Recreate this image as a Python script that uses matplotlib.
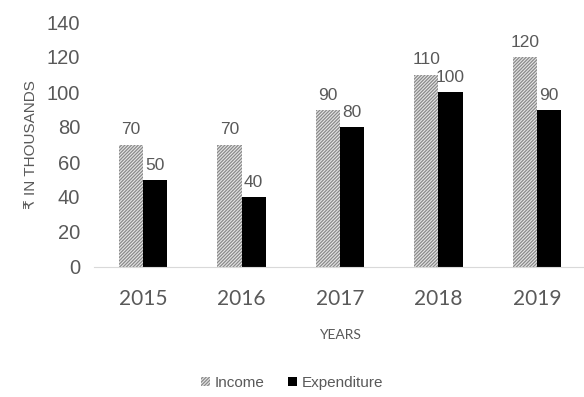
import matplotlib
matplotlib.use("Agg")
import matplotlib.pyplot as plt
import numpy as np

years = ["2015", "2016", "2017", "2018", "2019"]
income = [70, 70, 90, 110, 120]
expenditure = [50, 40, 80, 100, 90]

plt.rcParams['font.family'] = ['Liberation Sans', 'DejaVu Sans']
plt.rcParams['hatch.color'] = '#8a8a8a'
plt.rcParams['hatch.linewidth'] = 0.9

fig = plt.figure(figsize=(5.84, 3.97), dpi=100)
ax = fig.add_axes([94/584, 1 - 267/397, (586 - 94)/584, (267 - 22)/397])

x = np.arange(len(years))
w = 0.245
b1 = ax.bar(x - w/2, income, w, color='#e6e6e6', hatch='//////////', edgecolor='#8a8a8a', linewidth=0, label='Income')
b2 = ax.bar(x + w/2, expenditure, w, color='black', label='Expenditure')

for rect, v in zip(b1, income):
    ax.text(rect.get_x() + rect.get_width()/2, v + 4, str(v), ha='center', va='bottom', fontsize=12.5, color='#595959')
for rect, v in zip(b2, expenditure):
    ax.text(rect.get_x() + rect.get_width()/2, v + 4, str(v), ha='center', va='bottom', fontsize=12.5, color='#595959')

ax.set_xlim(-0.5, len(years) - 0.5)
ax.set_ylim(0, 140)
ax.set_yticks(range(0, 141, 20))
ax.set_xticks(x)
ax.set_xticklabels(years, family=['Lato', 'DejaVu Sans'], fontsize=15)
ax.tick_params(axis='both', length=0, colors='#595959')
ax.tick_params(axis='y', labelsize=14.5, pad=10)
ax.tick_params(axis='x', pad=16)
for s in ['top', 'right', 'left']:
    ax.spines[s].set_visible(False)
ax.spines['bottom'].set_color('#d9d9d9')

ax.set_ylabel('₹ IN THOUSANDS', fontsize=11, color='#595959', labelpad=6)
ax.set_xlabel('YEARS', fontsize=10, color='#595959', labelpad=14, family=['Lato', 'DejaVu Sans'])

fig.legend(handles=[b1, b2], labels=['Income', 'Expenditure'], loc='center', bbox_to_anchor=(292/584, 1 - 383/397),
           ncol=2, frameon=False, fontsize=11, labelcolor='#595959', handlelength=0.6, handleheight=0.6,
           handletextpad=0.3, columnspacing=1.5)

fig.savefig('out.png', dpi=100)
